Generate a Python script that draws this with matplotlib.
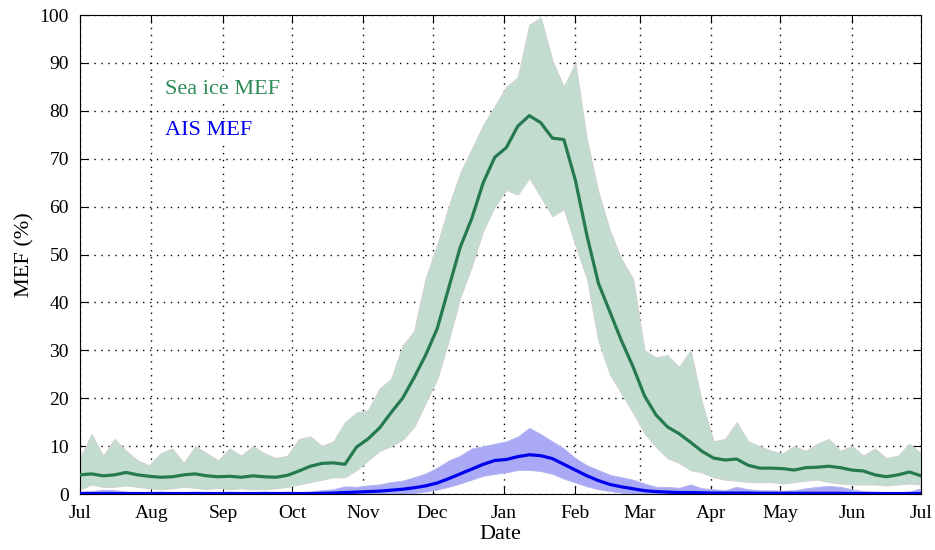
import numpy as np
import matplotlib
matplotlib.use('Agg')
import matplotlib.pyplot as plt

plt.rcParams['font.family'] = ['Liberation Serif', 'DejaVu Serif']

# days since 1 Jul, every 5 days
days = list(range(0, 366, 5))

sea_mean = [4.0, 4.2, 3.8, 4.0, 4.5, 4.0, 3.7, 3.5, 3.6, 4.0,
            4.2, 3.8, 3.6, 3.7, 3.5, 3.8, 3.6, 3.5, 3.9, 4.8,
            5.8, 6.4, 6.5, 6.2, 9.8, 11.5, 13.8, 17.0, 20.0, 24.3,
            29.0, 34.5, 43.0, 51.5, 57.5, 65.0, 70.3, 72.3, 76.8, 79.0,
            77.5, 74.3, 74.0, 65.5, 54.0, 44.0, 38.0, 32.0, 26.6, 20.5,
            16.5, 14.0, 12.6, 10.8, 8.9, 7.5, 7.1, 7.3, 6.0, 5.4,
            5.4, 5.3, 5.0, 5.5, 5.6, 5.8, 5.5, 5.0, 4.8, 4.0,
            3.6, 4.0, 4.6, 3.8]
sea_high = [7.5, 12.5, 8.0, 11.5, 9.0, 7.0, 6.0, 8.5, 9.5, 6.5,
            10.0, 8.5, 7.0, 9.5, 8.0, 10.0, 8.5, 7.5, 8.0, 11.5,
            12.0, 10.0, 11.0, 15.0, 17.0, 17.5, 22.0, 24.0, 31.0, 34.0,
            45.0, 52.0, 60.0, 67.0, 72.0, 77.0, 81.0, 85.0, 87.0, 98.0,
            99.5, 90.5, 85.0, 90.0, 74.0, 63.0, 55.0, 49.0, 45.0, 30.0,
            28.5, 29.0, 26.5, 30.0, 19.0, 11.0, 11.5, 15.0, 11.0, 10.0,
            9.0, 8.5, 10.0, 9.0, 10.5, 11.5, 9.0, 10.0, 8.0, 9.5,
            7.5, 8.0, 10.5, 8.5]
sea_low = [1.0, 2.0, 1.5, 1.5, 1.8, 1.5, 1.2, 1.0, 1.2, 1.5,
           1.3, 1.0, 1.3, 1.0, 1.2, 1.0, 1.0, 1.2, 1.5, 2.0,
           2.5, 3.0, 3.5, 3.5, 5.0, 7.0, 9.0, 10.0, 11.3, 14.0,
           19.0, 24.0, 32.0, 41.0, 47.5, 55.0, 60.0, 63.5, 62.5, 66.0,
           62.0, 58.0, 59.5, 52.0, 45.0, 32.0, 25.0, 21.0, 17.0, 12.7,
           9.8, 7.5, 6.5, 5.0, 4.5, 3.5, 3.0, 2.8, 2.5, 2.5,
           2.5, 2.2, 2.5, 2.8, 3.0, 2.5, 2.2, 2.0, 2.0, 2.0,
           1.8, 2.0, 2.2, 2.0]

ais_mean = [0.1, 0.1, 0.1, 0.1, 0.1, 0.1, 0.1, 0.1, 0.1, 0.1,
            0.1, 0.1, 0.1, 0.1, 0.1, 0.1, 0.1, 0.1, 0.1, 0.1,
            0.1, 0.15, 0.2, 0.3, 0.4, 0.5, 0.6, 0.8, 1.0, 1.3,
            1.7, 2.3, 3.2, 4.2, 5.2, 6.2, 7.0, 7.2, 7.8, 8.2,
            8.0, 7.4, 6.2, 5.0, 3.8, 2.8, 2.0, 1.5, 1.1, 0.7,
            0.5, 0.4, 0.3, 0.3, 0.25, 0.2, 0.2, 0.2, 0.2, 0.15,
            0.15, 0.15, 0.15, 0.15, 0.15, 0.15, 0.15, 0.1, 0.1, 0.1,
            0.1, 0.1, 0.1, 0.1]
ais_high = [0.5, 0.6, 0.9, 0.8, 0.5, 0.4, 0.4, 0.5, 0.4, 0.4,
            0.5, 0.4, 0.4, 0.5, 0.4, 0.4, 0.5, 0.4, 0.5, 0.4,
            0.5, 0.8, 1.0, 1.6, 1.5, 1.8, 2.0, 2.5, 2.8, 3.5,
            4.3, 5.5, 7.0, 8.0, 9.5, 10.0, 10.5, 11.0, 12.0, 13.8,
            12.5, 11.0, 9.5, 7.5, 6.0, 5.0, 4.0, 3.5, 3.0, 2.2,
            1.5, 1.5, 1.3, 2.0, 1.2, 1.0, 0.8, 1.5, 1.0, 0.8,
            0.8, 0.7, 0.8, 1.2, 1.5, 1.7, 1.5, 1.0, 0.6, 0.5,
            0.4, 0.4, 0.5, 1.2]
ais_low = [0.0] * 29 + [0.2, 0.5, 0.9, 1.5, 2.2, 3.0, 3.8, 4.2, 4.5, 5.0, 5.0,
                        4.8, 4.2, 3.2, 2.4, 1.6, 1.0, 0.6, 0.3, 0.1] + [0.0] * 25

month_days = [0, 31, 62, 92, 123, 153, 184, 215, 243, 274, 304, 335, 365]
month_labels = ['Jul', 'Aug', 'Sep', 'Oct', 'Nov', 'Dec', 'Jan',
                'Feb', 'Mar', 'Apr', 'May', 'Jun', 'Jul']

green = '#267a50'
fig = plt.figure(figsize=(9.35, 5.5), dpi=100)
ax = fig.add_axes([0.0856, 0.1018, 0.8994, 0.8709])

ax.fill_between(days, sea_low, sea_high, facecolor='#c2ddcf', edgecolor='#cfd4d0', linewidth=0.8, zorder=2)
ax.fill_between(days, ais_low, ais_high, facecolor='#a9a9f5', edgecolor='#b4b4f0', linewidth=0.6, zorder=2)
ax.plot(days, sea_mean, color=green, linewidth=2.3, zorder=3)
ax.plot(days, ais_mean, color='#0000ee', linewidth=2.3, zorder=3)

ax.set_xlim(0, 365)
ax.set_ylim(0, 100)
ax.set_xticks(month_days)
ax.set_xticklabels(month_labels)
ax.set_yticks(range(0, 101, 10))
ax.tick_params(direction='in', top=True, right=True, labelsize=14, length=6, pad=8)
ax.grid(True, linestyle=(0, (1, 4)), color='black', linewidth=1)
ax.set_axisbelow(True)
ax.set_xlabel('Date', fontsize=16, labelpad=2)
ax.set_ylabel('MEF (%)', fontsize=16)

ax.text(37, 84.5, 'Sea ice MEF', color='#2e8b57', fontsize=16, va='center',
        bbox=dict(facecolor='white', edgecolor='none', pad=2))
ax.text(37, 75.8, 'AIS MEF', color='#0000ee', fontsize=16, va='center',
        bbox=dict(facecolor='white', edgecolor='none', pad=2))

fig.savefig('out.png', dpi=100)
